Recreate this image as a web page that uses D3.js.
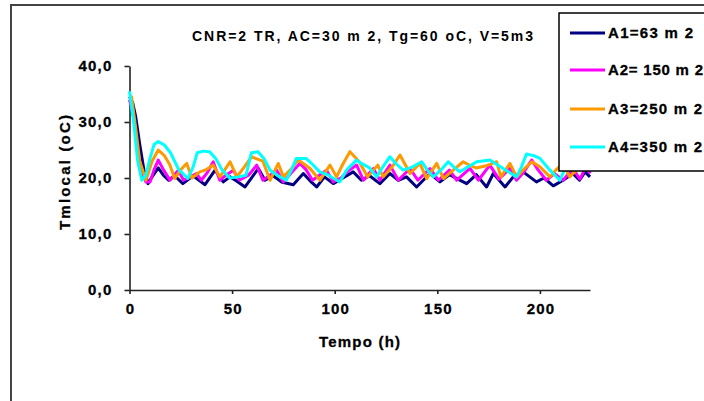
<!DOCTYPE html>
<html><head><meta charset="utf-8">
<script src="https://cdn.jsdelivr.net/npm/d3@7"></script>
<style>body{margin:0;background:#fff}svg{display:block}text{font-family:"Liberation Sans",Arial,sans-serif}</style>
</head><body>
<svg id="c" width="704" height="401"></svg>
<script>
const chartTitle = "CNR=2 TR, AC=30 m 2, Tg=60 oC, V=5m3";
const xLabel = "Tempo (h)";
const yLabel = "Tmlocal (oC)";
const xTicks = [0, 50, 100, 150, 200];
const yTicks = [0, 10, 20, 30, 40];
const seriesNames = ["A1=63 m 2", "A2= 150 m 2", "A3=250 m 2", "A4=350 m 2"];
const seriesColors = ["#000080", "#FF00FF", "#FF9900", "#00FFFF"];

const seriesA1 = [[0,34.5],[1.5,33.5],[3,31],[5,26],[7,21.5],[9,19],[11,20.2],[14,21.8],[16.5,20.5],[19,19.6],[22,20.4],[26,19],[31,20.4],[36.8,18.8],[41.7,21.4],[45.7,19.3],[49,20.2],[52,19.5],[56.3,18.4],[62.8,21.7],[66,19.6],[70,20.4],[74,19.3],[79.8,18.8],[84.7,20.8],[88,19.5],[91.2,18.4],[95,20.2],[99.3,19],[104,20],[109,21.1],[113,19.6],[117,20.4],[122,19],[126.9,20.8],[131,19.6],[135,20.2],[139.9,18.4],[146.4,20.8],[151.3,19.3],[156,20.6],[160,19.8],[164.3,19],[169,20.6],[174,18.4],[177.3,20.8],[183,18.4],[187,20.2],[191.8,21.1],[198.3,19.3],[202,20],[206.5,18.6],[211.3,19.6],[216,20.8],[219.3,19.6],[222,21.1],[224.4,20.2]];
const seriesA2 = [[0,34],[2,31],[4,25],[6,21],[8,19.3],[10,19.3],[12,21.5],[14,23.2],[16.5,21.5],[19.7,19.6],[23.8,21.4],[26.3,19.6],[29.5,20.2],[32.7,20.8],[35,19.6],[38,21],[40.8,22.9],[44,19.6],[47,20.5],[50.6,21.4],[53.5,19.6],[58,20.5],[62,22.3],[65,19.6],[68.5,20.5],[71.7,21.4],[75,19.3],[79,21],[83,22.6],[86,21.5],[89.2,19.6],[92.5,20.5],[96,21.4],[99.3,19.3],[103,20],[107,21.4],[110.7,22.3],[114,19.6],[118.8,21.7],[122,19.6],[126.9,22.3],[131,19.6],[136.7,21.7],[140.5,19.6],[146.4,21.7],[150.5,19.6],[155.9,21.4],[159.5,19.6],[165.9,21.7],[170,19.6],[175.6,22.3],[180,19.8],[185.4,21.7],[188.6,19.6],[192,21],[196,23.2],[199,21.5],[203.2,19.6],[207,20.8],[211.3,19.6],[216,21.7],[219.5,19.8],[222.8,22.3],[224.4,20.8]];
const seriesA3 = [[0,34.5],[1,34.5],[3,29],[5,23],[8,19.6],[11,23],[14,25],[17,24],[19.7,22.3],[22,19.9],[25,21.5],[27.9,22.6],[30.4,20],[34.3,21.1],[37.5,21.5],[40.8,22.3],[44,20.2],[46.5,21.5],[49,22.9],[52.3,20.2],[56,22],[59.5,23.8],[62,23.4],[65,23],[68.5,19.6],[72.5,22.6],[75,20.2],[78.5,21.5],[82.2,23.2],[85,22.5],[88,21.7],[92.8,19.6],[97.7,22.3],[100.9,20.2],[104,22.5],[107.4,24.7],[112,22.9],[116,20.2],[121,22.3],[123.6,20.2],[128,22],[131.8,24.1],[136.7,20.8],[141.5,22.6],[144.8,19.9],[149.7,22.6],[153,19.9],[158,21.5],[162.6,22.9],[166,22.2],[169,21.8],[174,22.2],[178.9,22.9],[181,20.2],[185.4,22.6],[188.6,20.2],[192,21.5],[196,22.9],[200,22],[204.9,20.2],[208,21.5],[211.3,22.6],[214.5,20.2],[218,21.5],[221,22.6],[224.4,21.8]];
const seriesA4 = [[0,35.5],[2,30],[4,23],[6,19.6],[8,20.5],[10,23.5],[12,26],[14,26.5],[17,25.9],[20,24.5],[24,21.5],[28.4,19.9],[31,22],[33,24.5],[36,24.8],[39,24.7],[42,23.5],[45,21.5],[48.8,20],[53,20.2],[56.8,20.5],[59.4,24.5],[62.6,24.7],[65.5,23.5],[68.5,21.4],[72,20.5],[76.4,19.6],[79,21.5],[81.3,23.5],[86,23.5],[89,22.5],[92.7,21.1],[97,20.5],[102.4,19.3],[106,21.5],[110.6,23.2],[113,22.6],[117,21.8],[120.4,20.2],[123.5,22],[126.9,23.8],[130,22.5],[133.4,21.4],[138,22],[142.4,22.9],[145,21.5],[148,20.2],[152,21.5],[155.3,22.9],[158,22],[161,21.1],[165,22],[169.2,22.9],[175.6,23.2],[182.1,21.7],[188.6,20.2],[191,22],[193.5,24.3],[197,24],[200,23.5],[204.9,21.4],[209.7,19.6],[213.8,22.9],[216,21.8],[219,22.5],[222,23.9],[224.4,23.6]];
const allSeries = [seriesA1, seriesA2, seriesA3, seriesA4];

const svg = d3.select("#c");
svg.append("rect").attr("width",704).attr("height",401).attr("fill","#fff");
svg.append("rect").attr("x",11).attr("y",5).attr("width",800).attr("height",500)
  .attr("fill","none").attr("stroke","#444").attr("stroke-width",2);

const x = d3.scaleLinear().domain([0,224.4]).range([129.5,590]);
const y = d3.scaleLinear().domain([0,40]).range([290,66]);
const fmt = v => d3.format(".1f")(v).replace(".", ",");

const gx = svg.append("g").attr("transform","translate(0,290)")
  .call(d3.axisBottom(x).tickValues(xTicks).tickSize(4).tickPadding(9).tickSizeOuter(0));
const gy = svg.append("g").attr("transform","translate(129.5,0)")
  .call(d3.axisLeft(y).tickValues(yTicks).tickFormat(fmt).tickSize(5).tickPadding(12).tickSizeOuter(0));
[gx,gy].forEach(g=>{
  g.select(".domain").attr("stroke","#222").attr("stroke-width",1.6);
  g.selectAll(".tick line").attr("stroke","#222").attr("stroke-width",1.6);
  g.selectAll(".tick text").attr("font-size",15).attr("font-weight","bold").attr("fill","#000")
   .attr("stroke","#000").attr("stroke-width",0.3)
   .attr("letter-spacing","1.2px").attr("font-family","'Liberation Sans',Arial,sans-serif");
});
gx.selectAll(".tick text").attr("dx","0.6px");

const line = d3.line().x(d=>x(d[0])).y(d=>y(d[1]));
allSeries.forEach((s,i)=>{
  svg.append("path").datum(s).attr("d",line).attr("fill","none")
    .attr("stroke",seriesColors[i]).attr("stroke-width",3).attr("stroke-linejoin","round");
});

svg.append("text").attr("x",192).attr("y",41)
  .attr("font-size",14).attr("font-weight","bold").attr("textLength",341).attr("lengthAdjust","spacing")
  .text(chartTitle);
svg.append("text").attr("x",319).attr("y",347).attr("stroke","#000").attr("stroke-width",0.3)
  .attr("font-size",15).attr("font-weight","bold").attr("textLength",81).attr("lengthAdjust","spacing").text(xLabel);
svg.append("text").attr("transform","translate(70,230) rotate(-90)").attr("stroke","#000").attr("stroke-width",0.3)
  .attr("font-size",15).attr("font-weight","bold").attr("textLength",115).attr("lengthAdjust","spacing").text(yLabel);

// legend
svg.append("rect").attr("x",559).attr("y",13).attr("width",200).attr("height",158)
  .attr("fill","#fff").attr("stroke","#000").attr("stroke-width",1.5);
const ly = [33,70,109,147];
const lw = [85,95,94,94];
seriesNames.forEach((n,i)=>{
  svg.append("line").attr("x1",570).attr("x2",605).attr("y1",ly[i]).attr("y2",ly[i])
    .attr("stroke",seriesColors[i]).attr("stroke-width",3);
  svg.append("text").attr("x",608).attr("y",ly[i]+5).attr("font-size",15).attr("font-weight","bold")
    .attr("stroke","#000").attr("stroke-width",0.3)
    .attr("textLength",lw[i]).attr("lengthAdjust","spacing").text(n);
});
</script>
</body></html>
